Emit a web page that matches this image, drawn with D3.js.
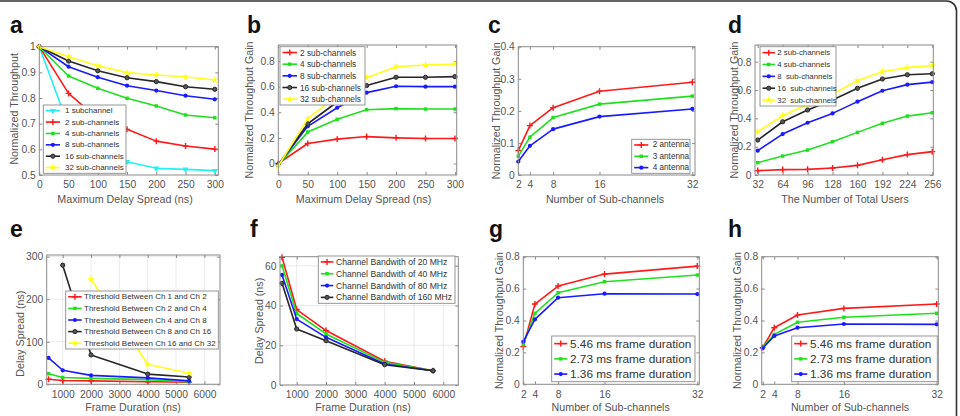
<!DOCTYPE html>
<html><head><meta charset="utf-8">
<script src="https://cdn.jsdelivr.net/npm/d3@7"></script>
<style>
body{margin:0;background:#fff}
svg{display:block;font-family:"Liberation Sans",Arial,sans-serif}
text{white-space:pre}
</style>
</head><body>
<svg id="chart" width="960" height="416"></svg>
<script>
// ---------- DATA ----------
const aX = [0, 50, 100, 150, 200, 250, 300];
const aNames = ["1 subchannel", "2 sub-channels", "4 sub-channels", "8 sub-channels", "16 sub-channels", "32 sub-channels"];
const aValues = [
  [1, 0.69, 0.60, 0.552, 0.526, 0.522, 0.517],
  [1, 0.818, 0.72, 0.678, 0.632, 0.613, 0.601],
  [1, 0.886, 0.838, 0.799, 0.769, 0.734, 0.723],
  [1, 0.922, 0.881, 0.848, 0.829, 0.809, 0.795],
  [1, 0.944, 0.906, 0.879, 0.864, 0.844, 0.834],
  [1, 0.961, 0.926, 0.899, 0.89, 0.883, 0.87]
];
const aTicksX = [0, 50, 100, 150, 200, 250, 300];
const aTicksY = [0.5, 0.6, 0.7, 0.8, 0.9, 1];

const bX = [0, 50, 100, 150, 200, 250, 300];
const bNames = ["2 sub-channels", "4 sub-channels", "8 sub-channels", "16 sub-channels", "32 sub-channels"];
const bValues = [
  [0, 0.156, 0.19, 0.21, 0.2, 0.195, 0.195],
  [-0.01, 0.245, 0.345, 0.42, 0.428, 0.425, 0.425],
  [-0.01, 0.29, 0.435, 0.553, 0.603, 0.6, 0.6],
  [-0.01, 0.31, 0.48, 0.608, 0.673, 0.673, 0.678],
  [-0.02, 0.35, 0.53, 0.67, 0.756, 0.769, 0.777]
];
const bTicksX = [0, 50, 100, 150, 200, 250, 300];
const bTicksY = [0, 0.2, 0.4, 0.6, 0.8];

const cX = [2, 4, 8, 16, 32];
const cNames = ["2 antenna", "3 antenna", "4 antenna"];
const cValues = [
  [0.076, 0.154, 0.21, 0.261, 0.289],
  [0.059, 0.118, 0.179, 0.221, 0.246],
  [0.042, 0.091, 0.143, 0.182, 0.206]
];
const cTicksX = [2, 4, 8, 16, 32];
const cTicksY = [0, 0.1, 0.2, 0.3, 0.4];

const dX = [32, 64, 96, 128, 160, 192, 224, 256];
const dNames = ["2 sub-channels", "4 sub-channels", "8  sub-channels", "16  sub-channels", "32  sub-channels"];
const dValues = [
  [0.031, 0.038, 0.04, 0.049, 0.068, 0.108, 0.144, 0.165],
  [0.087, 0.134, 0.176, 0.235, 0.301, 0.365, 0.416, 0.44],
  [0.172, 0.289, 0.369, 0.435, 0.518, 0.595, 0.638, 0.656],
  [0.247, 0.376, 0.459, 0.53, 0.612, 0.678, 0.708, 0.715],
  [0.306, 0.419, 0.5, 0.57, 0.668, 0.729, 0.758, 0.774]
];
const dTicksX = [32, 64, 96, 128, 160, 192, 224, 256];
const dTicksY = [0, 0.2, 0.4, 0.6, 0.8];

const eX = [500, 1000, 2000, 4000, 5460];
const eNames = ["Threshold Between Ch 1 and Ch 2", "Threshold Between Ch 2 and Ch 4", "Threshold Between Ch 4 and Ch 8", "Threshold Between Ch 8 and Ch 16", "Threshold Between Ch 16 and Ch 32"];
const eValues = [
  [12, 9, 8, 6, 5],
  [25, 16, 14, 11, 5.5],
  [62, 33, 21, 15, 8],
  [null, 280, 69, 24, 17],
  [null, null, 247, 47, 26]
];
const eTicksX = [1000, 2000, 3000, 4000, 5000, 6000];
const eTicksY = [0, 100, 200, 300];

const fX = [500, 1000, 2000, 4000, 5650];
const fNames = ["Channel Bandwith of 20 MHz", "Channel Bandwith of 40 MHz", "Channel Bandwith of 80 MHz", "Channel Bandwith of 160 MHz"];
const fValues = [
  [64.3, 38, 27.4, 12, 7.2],
  [60, 36, 25.7, 11.4, 7.2],
  [55.4, 33.2, 24, 10.6, 7.2],
  [51.2, 28.2, 22.3, 10.2, 7.2]
];
const fTicksX = [1000, 2000, 3000, 4000, 5000, 6000];
const fTicksY = [0, 20, 40, 60];

const gX = [2, 4, 8, 16, 32];
const gNames = ["5.46 ms frame duration", "2.73 ms frame duration", "1.36 ms frame duration"];
const gValues = [
  [0.236, 0.503, 0.616, 0.691, 0.741],
  [0.25, 0.445, 0.574, 0.643, 0.685],
  [0.267, 0.407, 0.543, 0.568, 0.566]
];
const hX = [2, 4, 8, 16, 32];
const hNames = ["5.46 ms frame duration", "2.73 ms frame duration", "1.36 ms frame duration"];
const hValues = [
  [0.23, 0.355, 0.434, 0.476, 0.503],
  [0.23, 0.313, 0.389, 0.42, 0.445],
  [0.226, 0.303, 0.355, 0.378, 0.376]
];
const ghTicksX = [2, 4, 8, 16, 32];
const ghTicksY = [0, 0.2, 0.4, 0.6, 0.8];

// ---------- STYLE ----------
const COL = {c: "#22f2f2", r: "#ff1a1a", g: "#1ee01e", b: "#1a1aff", k: "#262626", y: "#ffff1a"};
const SYM = {c: "tri", r: "plus", g: "square", b: "circle", k: "circle", y: "star"};
const AXIS_COL = "#8a8a8a";
const TXT_COL = "#555";
const TICK_FS = 10.3;
const LABEL_FS = 10.7;

const svg = d3.select("#chart");
svg.append("rect").attr("width", 960).attr("height", 416).attr("fill", "#fff");
// outer frame (rounded top-right corner)
svg.append("path").attr("d", "M0,1 H946 A10,10 0 0 1 956.5,11.5 V416")
  .attr("fill", "none").attr("stroke", "#333").attr("stroke-width", 1.6);

const fmt = v => String(+v.toFixed(3));

function marker(g, type, x, y, color) {
  if (type === "plus") {
    g.append("path").attr("d", `M${x-3},${y}H${x+3}M${x},${y-3}V${y+3}`)
      .attr("stroke", color).attr("stroke-width", 1.4);
    return;
  }
  const t = {tri: d3.symbolTriangle, square: d3.symbolSquare, circle: d3.symbolCircle, star: d3.symbolStar}[type];
  const size = {tri: 16, square: 12, circle: 14, star: 18}[type];
  const p = g.append("path").attr("d", d3.symbol().type(t).size(size)())
    .attr("transform", `translate(${x},${y})` + (type === "tri" ? " rotate(180)" : ""))
    .attr("fill", color);
  if (type === "circle" && color === COL.k) p.attr("fill", "#555").attr("stroke", color).attr("stroke-width", 1);
}

function panel(cfg) {
  const [L, T, R, B] = cfg.box;
  const g = svg.append("g");
  const x = d3.scaleLinear().domain(cfg.xDomain).range([L, R]);
  const y = d3.scaleLinear().domain(cfg.yDomain).range([B, T]);

  g.append("text").attr("x", cfg.letter[1]).attr("y", cfg.letter[2])
    .attr("font-size", 23).attr("font-weight", "bold").attr("fill", "#111").text(cfg.letter[0]);

  if (cfg.grid) {
    g.selectAll(".gx").data(cfg.xTicks).enter().append("line")
      .attr("x1", d => x(d)).attr("x2", d => x(d)).attr("y1", T).attr("y2", B)
      .attr("stroke", "#e4e4e4").attr("stroke-width", 0.8);
    g.selectAll(".gy").data(cfg.yTicks).enter().append("line")
      .attr("y1", d => y(d)).attr("y2", d => y(d)).attr("x1", L).attr("x2", R)
      .attr("stroke", "#e4e4e4").attr("stroke-width", 0.8);
  }

  const ax = (gen, tr) => {
    const a = g.append("g").attr("transform", tr).call(gen);
    a.select(".domain").remove();
    a.selectAll("line").attr("stroke", AXIS_COL);
    a.selectAll("text").attr("fill", TXT_COL).attr("font-size", TICK_FS)
      .attr("font-family", '"Liberation Sans",Arial,sans-serif');
    return a;
  };
  ax(d3.axisBottom(x).tickValues(cfg.xTicks).tickFormat(fmt).tickSizeInner(-3).tickSizeOuter(0).tickPadding(6), `translate(0,${B})`)
    .selectAll("text").attr("dy", "0.71em");
  ax(d3.axisTop(x).tickValues(cfg.xTicks).tickFormat("").tickSizeInner(-3).tickSizeOuter(0), `translate(0,${T})`);
  ax(d3.axisLeft(y).tickValues(cfg.yTicks).tickFormat(fmt).tickSizeInner(-3).tickSizeOuter(0).tickPadding(3.5), `translate(${L},0)`);
  ax(d3.axisRight(y).tickValues(cfg.yTicks).tickFormat("").tickSizeInner(-3).tickSizeOuter(0), `translate(${R},0)`);

  const line = d3.line().defined(d => d[1] != null).x(d => x(d[0])).y(d => y(d[1]));
  cfg.values.forEach((vals, i) => {
    const st = cfg.styles[i];
    const pts = cfg.xs.map((xv, j) => [xv, vals[j]]);
    g.append("path").attr("d", line(pts)).attr("fill", "none")
      .attr("stroke", COL[st]).attr("stroke-width", 1.6).attr("stroke-linejoin", "round");
    pts.filter(d => d[1] != null).forEach(d => marker(g, SYM[st], x(d[0]), y(d[1]), COL[st]));
  });

  g.append("rect").attr("x", L).attr("y", T).attr("width", R - L).attr("height", B - T)
    .attr("fill", "none").attr("stroke", AXIS_COL).attr("stroke-width", 1);

  g.append("text").attr("x", cfg.xLabelPos[0]).attr("y", cfg.xLabelPos[1])
    .attr("text-anchor", "middle").attr("dominant-baseline", "central")
    .attr("font-size", LABEL_FS).attr("fill", TXT_COL).text(cfg.xLabel);
  g.append("text").attr("transform", `translate(${cfg.yLabelPos[0]},${(T + B) / 2 + (cfg.yLabelDy || 0)}) rotate(-90)`)
    .attr("text-anchor", "middle").attr("dominant-baseline", "central")
    .attr("font-size", LABEL_FS).attr("fill", TXT_COL).text(cfg.yLabel);

  const lg = cfg.legend;
  const lgG = g.append("g");
  lgG.append("rect").attr("x", lg.x).attr("y", lg.y).attr("width", lg.w).attr("height", lg.h)
    .attr("fill", "#fff").attr("stroke", "#8a8a8a").attr("stroke-width", 0.9);
  cfg.names.forEach((nm, i) => {
    const ry = lg.y + lg.h * (i + 0.5) / cfg.names.length;
    const st = cfg.styles[i];
    const x0 = lg.x + 2.5, x1 = lg.x + lg.lineLen;
    lgG.append("line").attr("x1", x0).attr("x2", x1).attr("y1", ry).attr("y2", ry)
      .attr("stroke", COL[st]).attr("stroke-width", 1.6);
    marker(lgG, SYM[st], (x0 + x1) / 2, ry, COL[st]);
    lgG.append("text").attr("x", lg.x + lg.textOff).attr("y", ry).attr("dominant-baseline", "central")
      .attr("font-size", lg.font).attr("fill", "#333").text(nm);
  });
}

panel({
  letter: ["a", 10, 33], box: [39.3, 46.7, 218.3, 175],
  xDomain: [0, 306], yDomain: [0.5, 1], xTicks: aTicksX, yTicks: aTicksY,
  xs: aX, values: aValues, names: aNames, styles: ["c", "r", "g", "b", "k", "y"],
  xLabel: "Maximum Delay Spread (ns)", xLabelPos: [125, 199],
  yLabel: "Normalized Throughput", yLabelPos: [14, 0], yLabelDy: -2,
  legend: {x: 43.3, y: 105, w: 82.7, h: 68.3, lineLen: 16.7, textOff: 21.7, font: 8}
});
panel({
  letter: ["b", 247, 33], box: [278.3, 45, 456.7, 175],
  xDomain: [0, 303], yDomain: [-0.09, 0.925], xTicks: bTicksX, yTicks: bTicksY,
  xs: bX, values: bValues, names: bNames, styles: ["r", "g", "b", "k", "y"],
  xLabel: "Maximum Delay Spread (ns)", xLabelPos: [363.5, 199],
  yLabel: "Normalized Throughput Gain", yLabelPos: [248.5, 0],
  legend: {x: 280, y: 46.7, w: 85, h: 58.3, lineLen: 17, textOff: 20, font: 8.3}
});
panel({
  letter: ["c", 488, 33], box: [518.3, 46.7, 695, 175],
  xDomain: [2, 32.46], yDomain: [0, 0.4], xTicks: cTicksX, yTicks: cTicksY,
  xs: cX, values: cValues, names: cNames, styles: ["r", "g", "b"],
  xLabel: "Number of Sub-channels", xLabelPos: [605, 199],
  yLabel: "Normalized Throughput Gain", yLabelPos: [495.5, 0],
  legend: {x: 631.7, y: 139.3, w: 58.3, h: 34, lineLen: 16.6, textOff: 21, font: 8.2}
});
panel({
  letter: ["d", 728, 33], box: [755, 45, 933.3, 175],
  xDomain: [28.5, 257.3], yDomain: [0, 0.918], xTicks: dTicksX, yTicks: dTicksY,
  xs: dX, values: dValues, names: dNames, styles: ["r", "g", "b", "k", "y"],
  xLabel: "The Number of Total Users", xLabelPos: [845, 199],
  yLabel: "Normalized Throughput Gain", yLabelPos: [734, 0],
  legend: {x: 760, y: 46.7, w: 76, h: 59.3, lineLen: 15, textOff: 17.3, font: 7.8}
});
panel({
  letter: ["e", 10, 237], box: [46.7, 255, 220, 384.3], grid: true,
  xDomain: [435, 6550], yDomain: [0, 304], xTicks: eTicksX, yTicks: eTicksY,
  xs: eX, values: eValues, names: eNames, styles: ["r", "g", "b", "k", "y"],
  xLabel: "Frame Duration (ns)", xLabelPos: [133, 406.7],
  yLabel: "Delay Spread (ns)", yLabelPos: [19.5, 0], yLabelDy: 14,
  legend: {x: 65.7, y: 291, w: 152.6, h: 58, lineLen: 16, textOff: 18.3, font: 8}
});
panel({
  letter: ["f", 250, 237], box: [280, 256.7, 458.3, 385], grid: true,
  xDomain: [431, 6510], yDomain: [0, 64.6], xTicks: fTicksX, yTicks: fTicksY,
  xs: fX, values: fValues, names: fNames, styles: ["r", "g", "b", "k"],
  xLabel: "Frame Duration (ns)", xLabelPos: [363, 407],
  yLabel: "Delay Spread (ns)", yLabelPos: [258.5, 0],
  legend: {x: 318.3, y: 256, w: 136.7, h: 47.3, lineLen: 15, textOff: 17.7, font: 8.6}
});
panel({
  letter: ["g", 489, 237], box: [523.3, 256.7, 699.3, 384.3],
  xDomain: [2, 32.34], yDomain: [0, 0.8], xTicks: ghTicksX, yTicks: ghTicksY,
  xs: gX, values: gValues, names: gNames, styles: ["r", "g", "b"],
  xLabel: "Number of Sub-channels", xLabelPos: [610.7, 407.3],
  yLabel: "Normalized Throughput Gain", yLabelPos: [498.5, 0],
  legend: {x: 551.7, y: 336, w: 143.3, h: 45.7, lineLen: 15.6, textOff: 18.3, font: 11.8}
});
panel({
  letter: ["h", 728, 237], box: [761.7, 256.7, 938.3, 384.3],
  xDomain: [1.83, 32.28], yDomain: [0, 0.8], xTicks: ghTicksX, yTicks: ghTicksY,
  xs: hX, values: hValues, names: hNames, styles: ["r", "g", "b"],
  xLabel: "Number of Sub-channels", xLabelPos: [850, 407.3],
  yLabel: "Normalized Throughput Gain", yLabelPos: [737, 0],
  legend: {x: 791.7, y: 336, w: 145.6, h: 45.7, lineLen: 15.6, textOff: 18.3, font: 11.8}
});
</script>
</body></html>
